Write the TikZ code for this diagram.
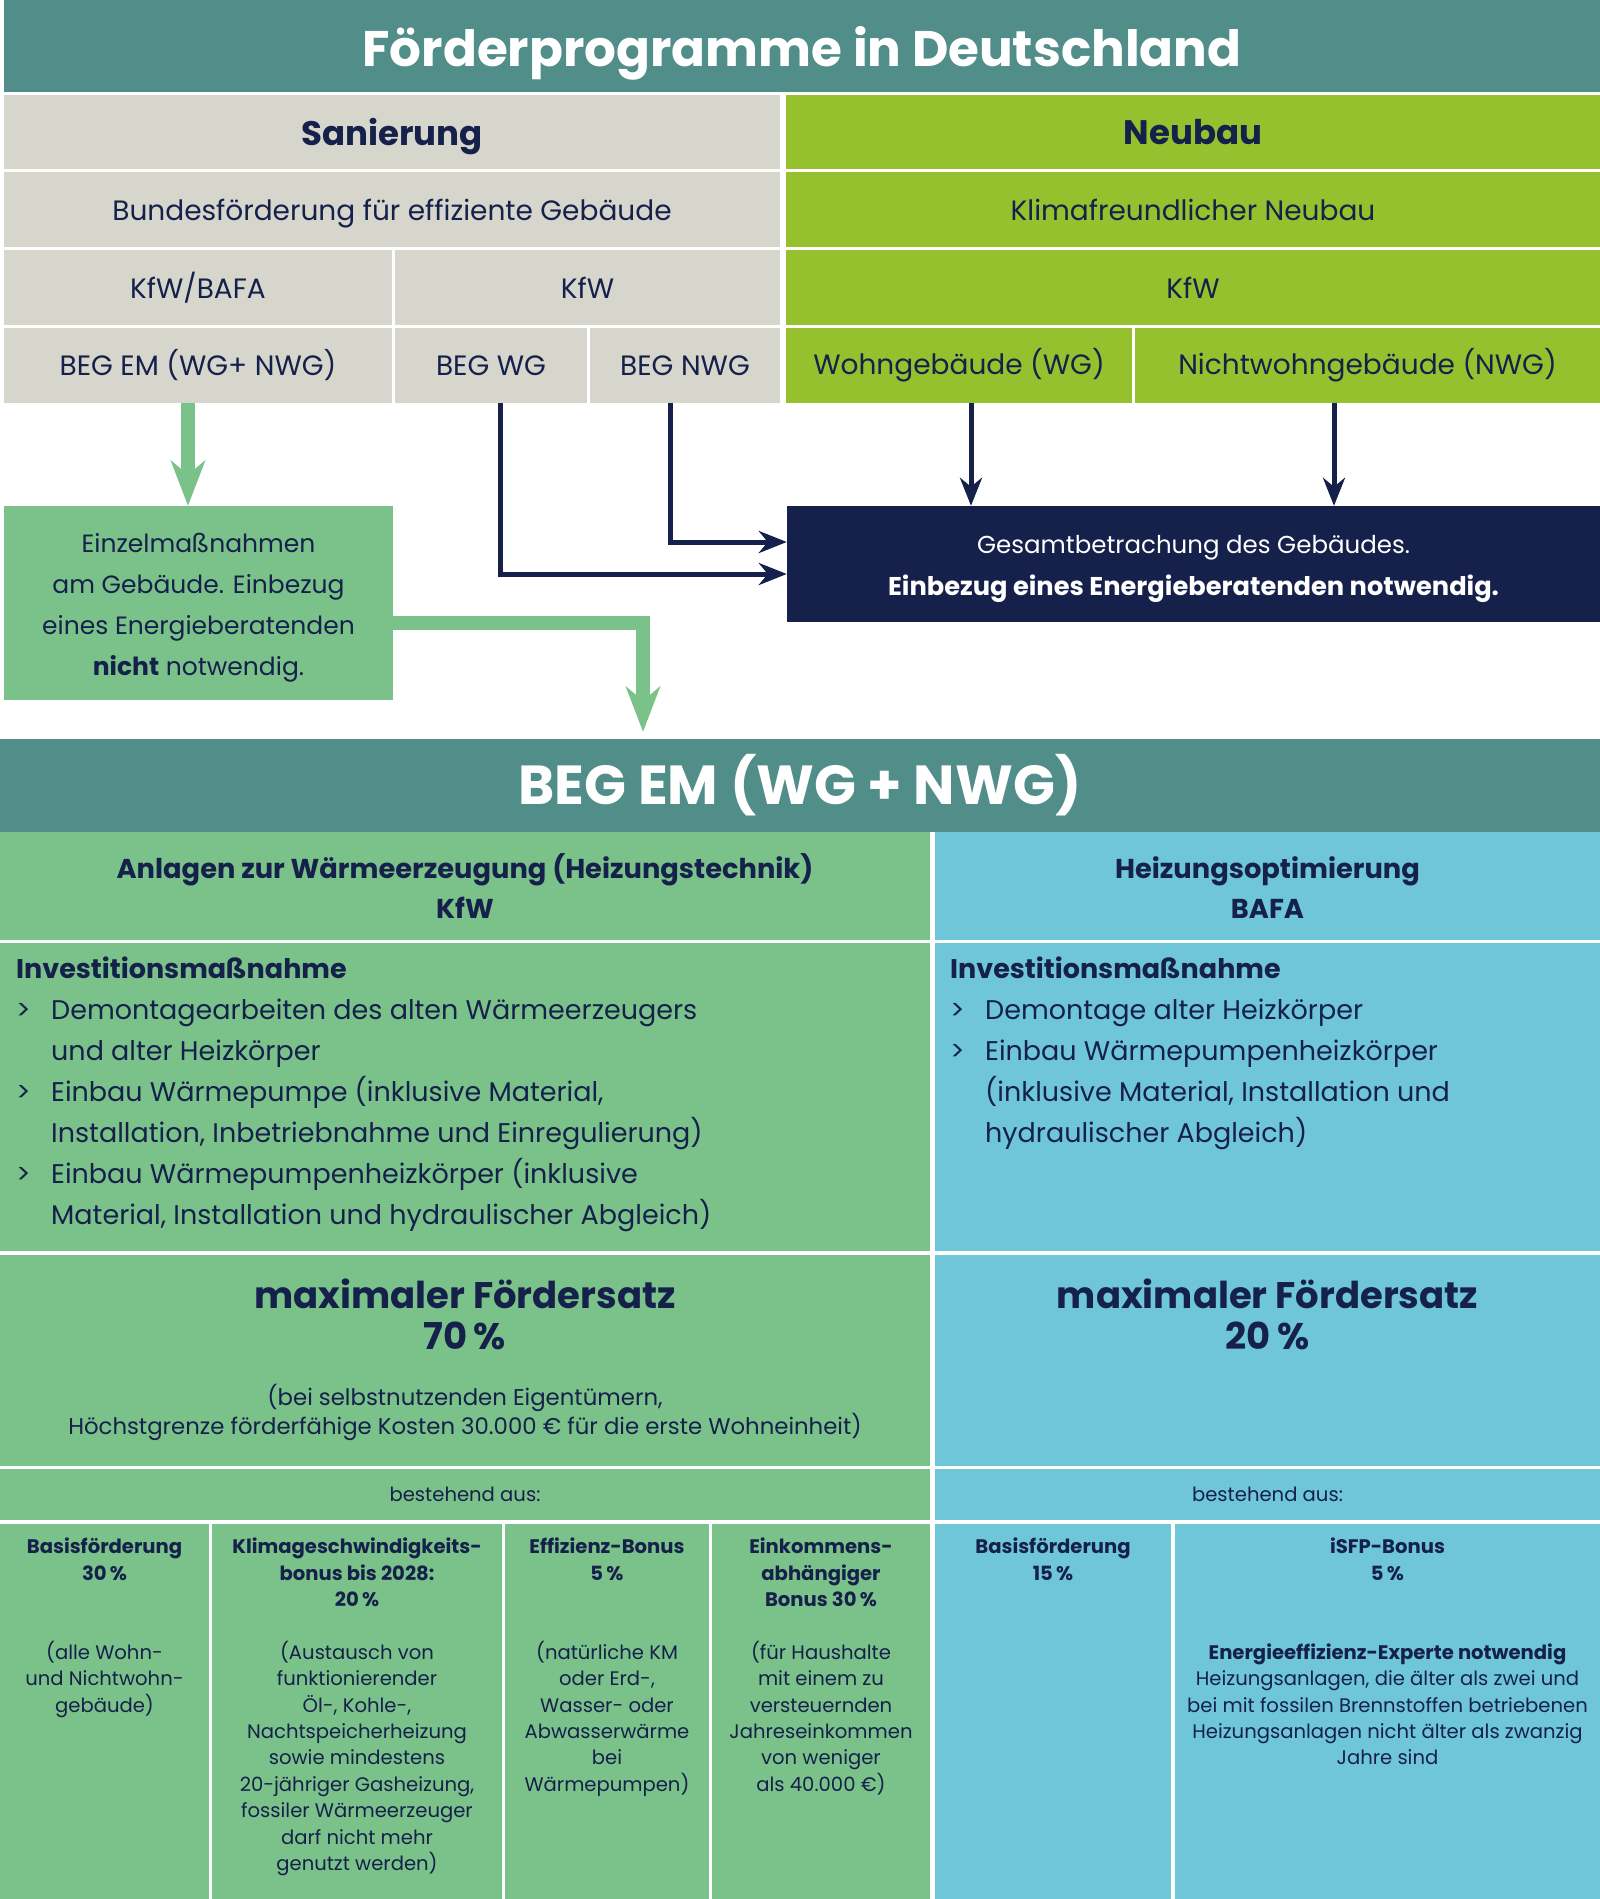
\documentclass[tikz,border=0pt]{standalone}
\usepackage{fontspec}
\setmainfont{Poppins}
\usetikzlibrary{arrows.meta, positioning}
\definecolor{bandteal}{RGB}{81,141,137}
\definecolor{sangray}{RGB}{215,214,205}
\definecolor{neulime}{RGB}{150,193,46}
\definecolor{emgreen}{RGB}{123,193,138}
\definecolor{optblue}{RGB}{111,198,217}
\definecolor{deepnavy}{RGB}{21,33,74}
\newcommand{\fsTitle}{\fontsize{50}{56}\selectfont\bfseries}
\newcommand{\fsHead}{\fontsize{34}{40}\selectfont\bfseries}
\newcommand{\fsRow}{\fontsize{28}{32}\selectfont}
\newcommand{\fsBox}{\fontsize{25}{41}\selectfont}
\newcommand{\fsNavy}{\fontsize{24.5}{42}\selectfont}
\newcommand{\fsNavyB}{\fontsize{25.7}{42}\selectfont\bfseries}
\newcommand{\fsBig}{\fontsize{55}{60}\selectfont\bfseries}
\newcommand{\fsSub}{\fontsize{27.3}{40}\selectfont\bfseries}
\newcommand{\fsList}{\fontsize{27}{41}\selectfont}
\newcommand{\fsMax}{\fontsize{37}{41}\selectfont\bfseries}
\newcommand{\fsNote}{\fontsize{22.8}{29}\selectfont}
\newcommand{\fsCell}{\fontsize{19.6}{26.4}\selectfont}
\newcommand{\bul}{\makebox[35pt][l]{>}}
\tikzset{
  cell/.style      = {inner sep=0pt, align=center, text=deepnavy, font=\fsRow},
  cellsize/.style 2 args = {minimum width=#1, minimum height=#2},
  graycell/.style  = {cell, fill=sangray},
  limecell/.style  = {cell, fill=neulime},
  greencell/.style = {cell, fill=emgreen},
  bluecell/.style  = {cell, fill=optblue},
  band/.style      = {cell, fill=bandteal, text=white, font=\fsTitle},
  txt/.style       = {inner sep=0pt, text=deepnavy},
  celltxt/.style   = {txt, font=\fsCell, align=center},
  garrow/.style    = {draw=emgreen, line width=14pt,
                      -{Stealth[length=45pt, width=34pt, inset=14pt]}},
  narrow/.style    = {draw=deepnavy, line width=5pt,
                      -{Stealth[length=28pt, width=22pt, inset=9pt]}},
}
\begin{document}
\begin{tikzpicture}[x=1pt, y=-1pt]
  \useasboundingbox (0,0) rectangle (1600,1899);
  \fill[white] (0,0) rectangle (1600,1899);

  % programme overview
  \node[band, text depth=0pt, cellsize={1596pt}{92pt}] (title) at (802,46) {Förderprogramme in Deutschland};
  \node[graycell, font=\fsHead, text depth=0pt, cellsize={776pt}{74pt}] (san) at (392,132) {Sanierung};
  \node[limecell, font=\fsHead, cellsize={814pt}{74pt}] (neu) at (1193,132) {Neubau};
  \node[graycell, text depth=0pt, cellsize={776pt}{75pt}] (bfeg) at (392,209.5) {Bundesförderung für effiziente Gebäude};
  \node[limecell, cellsize={814pt}{75pt}] (kfn) at (1193,209.5) {Klimafreundlicher Neubau};
  \node[graycell, cellsize={388pt}{75pt}] (kfwbafa) at (198,287.5) {KfW/BAFA};
  \node[graycell, cellsize={385pt}{75pt}] (kfwsan) at (587.5,287.5) {KfW};
  \node[limecell, cellsize={814pt}{75pt}] (kfwneu) at (1193,287.5) {KfW};
  \node[graycell, cellsize={388pt}{75pt}] (begem) at (198,365.5) {BEG EM (WG+ NWG)};
  \node[graycell, cellsize={192pt}{75pt}] (begwg) at (491,365.5) {BEG WG};
  \node[graycell, cellsize={190pt}{75pt}] (begnwg) at (685,365.5) {BEG NWG};
  \node[limecell, cellsize={346pt}{75pt}] (wg) at (959,365.5) {Wohngebäude (WG)};
  \node[limecell, cellsize={465pt}{75pt}] (nwg) at (1367.5,365.5) {Nichtwohngebäude (NWG)};

  \node[greencell, cellsize={389pt}{194pt}] (einzel) at (198.5,603) {};
  \node[txt, font=\fsBox, align=center] (einzeltxt) at ([yshift=-5pt]einzel.center)
    {Einzelmaßnahmen\\am Gebäude. Einbezug\\eines Energieberatenden\\\textbf{nicht} notwendig.};
  \node[cell, fill=deepnavy, cellsize={813pt}{116pt}] (gesamt) at (1193.5,564) {};
  \node[txt, text=white, font=\fsNavy, align=center] (gesamttxt) at ([yshift=-5pt]gesamt.center)
    {Gesamtbetrachung des Gebäudes.\\{\fsNavyB Einbezug eines Energieberatenden notwendig.}};

  % BEG EM table
  \node[band, font=\fsBig, cellsize={1600pt}{93pt}] (bemtitle) at (800,785.5) {BEG EM (WG + NWG)};
  \node[greencell, font=\fsSub, cellsize={930pt}{108pt}] (anl) at (465,886)
    {Anlagen zur Wärmeerzeugung (Heizungstechnik)\\KfW};
  \node[bluecell, cellsize={665pt}{108pt}] (heiz) at (1267.5,886) {};
  \node[txt, font=\fsSub, align=center] (heiztxt) at ([yshift=-2pt]heiz.center)
    {Heizungsoptimierung\\BAFA};

  \node[greencell, cellsize={930pt}{308pt}] (invL) at (465,1097) {};
  \node[bluecell, cellsize={665pt}{308pt}] (invR) at (1267.5,1097) {};
  \node[txt, font=\fsList, align=left, anchor=north west] (invLtxt) at (16,957)
    {\textbf{Investitionsmaßnahme}\\
     \bul Demontagearbeiten des alten Wärmeerzeugers\\
     \hspace*{35pt}und alter Heizkörper\\
     \bul Einbau Wärmepumpe (inklusive Material,\\
     \hspace*{35pt}Installation, Inbetriebnahme und Einregulierung)\\
     \bul Einbau Wärmepumpenheizkörper (inklusive\\
     \hspace*{35pt}Material, Installation und hydraulischer Abgleich)};
  \node[txt, font=\fsList, align=left, anchor=north west] (invRtxt) at (950,957)
    {\textbf{Investitionsmaßnahme}\\
     \bul Demontage alter Heizkörper\\
     \bul Einbau Wärmepumpenheizkörper\\
     \hspace*{35pt}(inklusive Material, Installation und\\
     \hspace*{35pt}hydraulischer Abgleich)};

  \node[greencell, cellsize={930pt}{211pt}] (maxL) at (465,1360.5) {};
  \node[bluecell, cellsize={665pt}{211pt}] (maxR) at (1267.5,1360.5) {};
  \node[txt, font=\fsMax, align=center, anchor=north] (maxLhead) at (465,1279)
    {maximaler Fördersatz\\70\,\%};
  \node[txt, font=\fsNote, align=center, below=34pt of maxLhead] (maxLnote)
    {(bei selbstnutzenden Eigentümern,\\Höchstgrenze förderfähige Kosten 30.000 € für die erste Wohneinheit)};
  \node[txt, font=\fsMax, align=center, anchor=north] (maxRhead) at (1267.5,1279)
    {maximaler Fördersatz\\20\,\%};

  \node[greencell, font=\fsCell, cellsize={930pt}{51pt}] (bestL) at (465,1494.5) {bestehend aus:};
  \node[bluecell, font=\fsCell, cellsize={665pt}{51pt}] (bestR) at (1267.5,1494.5) {bestehend aus:};

  \node[greencell, cellsize={209pt}{375pt}] (basisL) at (104.5,1711.5) {};
  \node[greencell, cellsize={290pt}{375pt}] (klima) at (357,1711.5) {};
  \node[greencell, cellsize={204pt}{375pt}] (effiz) at (607,1711.5) {};
  \node[greencell, cellsize={218pt}{375pt}] (eink) at (821,1711.5) {};
  \node[bluecell, cellsize={236pt}{375pt}] (basisR) at (1053,1711.5) {};
  \node[bluecell, cellsize={425pt}{375pt}] (isfp) at (1387.5,1711.5) {};

  \node[celltxt, below=14pt of basisL.north] (basisLtxt)
    {\textbf{Basisförderung}\\\textbf{30\,\%}\\\mbox{}\\\mbox{}\\(alle Wohn-\\und Nichtwohn-\\gebäude)};
  \node[celltxt, below=14pt of klima.north] (klimatxt)
    {\textbf{Klimageschwindigkeits-}\\\textbf{bonus bis 2028:}\\\textbf{20\,\%}\\\mbox{}\\(Austausch von\\funktionierender\\Öl-, Kohle-,\\Nachtspeicherheizung\\sowie mindestens\\20-jähriger Gasheizung,\\fossiler Wärmeerzeuger\\darf nicht mehr\\genutzt werden)};
  \node[celltxt, below=14pt of effiz.north] (effiztxt)
    {\textbf{Effizienz-Bonus}\\\textbf{5\,\%}\\\mbox{}\\\mbox{}\\(natürliche KM\\oder Erd-,\\Wasser- oder\\Abwasserwärme\\bei\\Wärmepumpen)};
  \node[celltxt, below=14pt of eink.north] (einktxt)
    {\textbf{Einkommens-}\\\textbf{abhängiger}\\\textbf{Bonus 30\,\%}\\\mbox{}\\(für Haushalte\\mit einem zu\\versteuernden\\Jahreseinkommen\\von weniger\\als 40.000 €)};
  \node[celltxt, below=14pt of basisR.north] (basisRtxt)
    {\textbf{Basisförderung}\\\textbf{15\,\%}};
  \node[celltxt, below=14pt of isfp.north] (isfptxt)
    {\textbf{iSFP-Bonus}\\\textbf{5\,\%}\\\mbox{}\\\mbox{}\\\textbf{Energieeffizienz-Experte notwendig}\\Heizungsanlagen, die älter als zwei und\\bei mit fossilen Brennstoffen betriebenen\\Heizungsanlagen nicht älter als zwanzig\\Jahre sind};

  % connectors
  \draw[garrow] ([xshift=-10pt]begem.south) -- ([xshift=-10pt]begem.south |- einzel.north);
  \draw[garrow, shorten >=7pt] ([yshift=-20pt]einzel.east) -| ([xshift=-157pt]bemtitle.north);
  \draw[narrow] ([xshift=9pt]begwg.south) |- ([yshift=-10pt]gesamt.west);
  \draw[narrow] ([xshift=-15pt]begnwg.south) |- ([yshift=22pt]gesamt.west);
  \draw[narrow] ([xshift=12pt]wg.south) -- ([xshift=12pt]wg.south |- gesamt.north);
  \draw[narrow] ([xshift=-33.5pt]nwg.south) -- ([xshift=-33.5pt]nwg.south |- gesamt.north);
\end{tikzpicture}
\end{document}
